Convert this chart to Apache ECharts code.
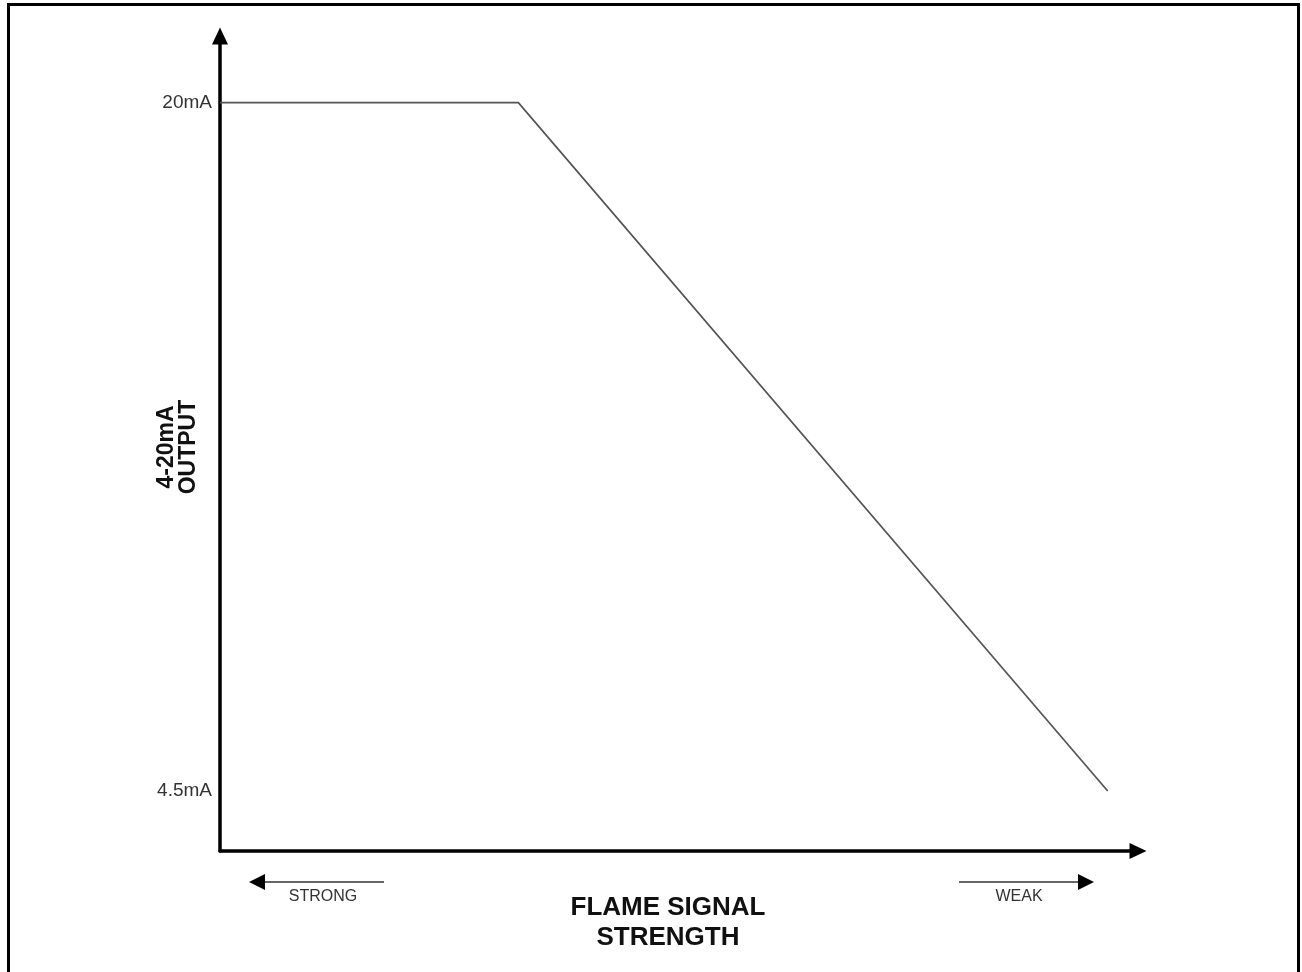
<!DOCTYPE html>
<html>
<head>
<meta charset="utf-8">
<title>4-20mA output vs flame signal strength</title>
<script src="https://cdn.jsdelivr.net/npm/echarts@6/dist/echarts.min.js"></script>
<style>
  html, body { margin: 0; padding: 0; background: #fff; }
  #chart { width: 1302px; height: 972px; }
</style>
</head>
<body>
<div id="chart"></div>
<script>
// data
const signalStrength = [0, 32.5, 96.7]
const outputMa = [20, 20, 4.5]
const yTickValues = [4.5, 20]
const yTickLabels = { 4.5: "4.5mA", 20: "20mA" }

const font = "'Liberation Sans', Arial, sans-serif"

const chart = echarts.init(document.getElementById("chart"))

const options = {
  backgroundColor: "#fff",
  animation: false,
  grid: { left: 220, right: 164, top: 36, bottom: 121 },
  xAxis: {
    type: "value",
    min: 0,
    max: 100,
    axisLine: {
      show: true,
      symbol: ["none", "triangle"],
      symbolSize: [16, 17],
      lineStyle: { color: "#000", width: 3.5 }
    },
    axisTick: { show: false },
    axisLabel: { show: false },
    splitLine: { show: false }
  },
  yAxis: {
    type: "value",
    min: 3.15,
    max: 21.5,
    axisLine: {
      show: true,
      symbol: ["none", "triangle"],
      symbolSize: [16, 17],
      lineStyle: { color: "#000", width: 3.5 }
    },
    axisTick: { show: false },
    axisLabel: {
      customValues: yTickValues,
      formatter: (v) => yTickLabels[v] || "",
      color: "#333",
      fontSize: 19,
      fontFamily: font,
      margin: 8
    },
    splitLine: { show: false }
  },
  series: [
    {
      type: "line",
      data: signalStrength.map((x, i) => [x, outputMa[i]]),
      symbol: "none",
      lineStyle: { color: "#555", width: 1.7 }
    }
  ],
  graphic: [
    // frame
    {
      type: "rect",
      shape: { x: 8.5, y: 4.5, width: 1290, height: 1000 },
      style: { fill: "none", stroke: "#000", lineWidth: 3 },
      silent: true
    },
    // y axis title
    {
      type: "text",
      x: 178,
      y: 447,
      rotation: Math.PI / 2,
      style: {
        text: "4-20mA\nOUTPUT",
        font: "bold 23px " + font,
        fill: "#111",
        align: "center",
        verticalAlign: "middle",
        lineHeight: 22
      }
    },
    // x axis title
    {
      type: "text",
      x: 668,
      y: 923,
      style: {
        text: "FLAME SIGNAL\nSTRENGTH",
        font: "bold 26px " + font,
        fill: "#111",
        align: "center",
        verticalAlign: "middle",
        lineHeight: 30
      }
    },
    // STRONG arrow
    {
      type: "line",
      shape: { x1: 262, y1: 882, x2: 384, y2: 882 },
      style: { stroke: "#333", lineWidth: 1.5 }
    },
    {
      type: "polygon",
      shape: { points: [[249, 882], [265, 874], [265, 890]] },
      style: { fill: "#000" }
    },
    {
      type: "text",
      x: 323,
      y: 897,
      style: {
        text: "STRONG",
        font: "16px " + font,
        fill: "#333",
        align: "center",
        verticalAlign: "middle"
      }
    },
    // WEAK arrow
    {
      type: "line",
      shape: { x1: 959, y1: 882, x2: 1081, y2: 882 },
      style: { stroke: "#333", lineWidth: 1.5 }
    },
    {
      type: "polygon",
      shape: { points: [[1094, 882], [1078, 874], [1078, 890]] },
      style: { fill: "#000" }
    },
    {
      type: "text",
      x: 1019,
      y: 897,
      style: {
        text: "WEAK",
        font: "16px " + font,
        fill: "#333",
        align: "center",
        verticalAlign: "middle"
      }
    }
  ]
}

chart.setOption(options)
</script>
</body>
</html>
